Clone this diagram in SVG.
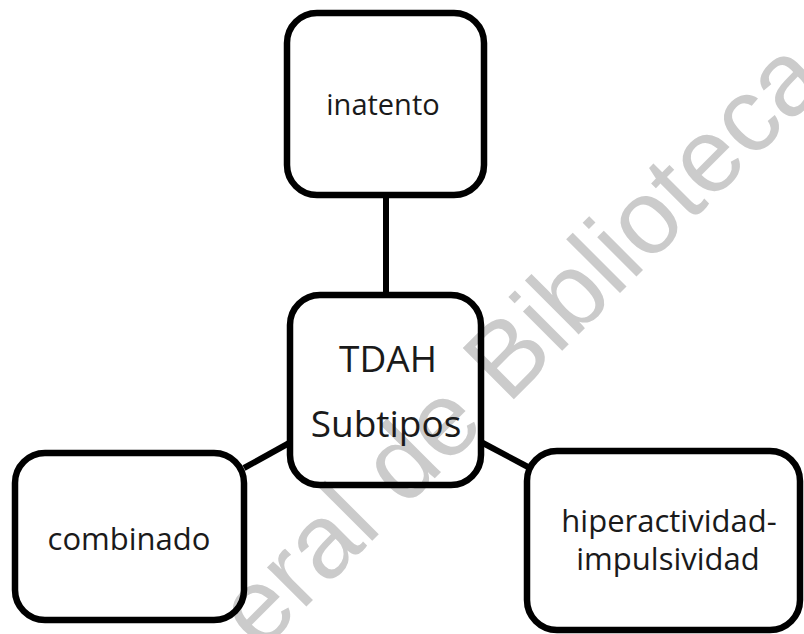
<svg xmlns="http://www.w3.org/2000/svg" width="804" height="634" viewBox="0 0 804 634">
<style>
.box{fill:none;stroke:#000;stroke-width:6.5}
.lbl{font-family:"Open Sans","Noto Sans","Liberation Sans",sans-serif;fill:#1a1a1a;text-anchor:middle}
.conn line{stroke:#000;stroke-width:6}
.wm{font-family:"Liberation Sans",Arial,sans-serif;font-size:105px;fill:#cbcbcb}
</style>
<rect width="804" height="634" fill="#fff"/>
<text class="wm" transform="translate(260,653) rotate(-45)" x="0" y="0">eral de Biblioteca</text>
<g id="connectors" class="conn">
<line x1="386" y1="195" x2="386" y2="295"/>
<line x1="244" y1="468" x2="291" y2="442"/>
<line x1="481" y1="442" x2="528" y2="467"/>
</g>
<g id="node-inatento">
<rect class="box" x="287" y="13" width="197" height="182" rx="30"/>
<text class="lbl" x="383" y="115" font-size="29">inatento</text>
</g>
<g id="node-tdah">
<rect class="box" x="290" y="295" width="191" height="190" rx="30"/>
<text class="lbl" x="388" y="372" font-size="37">TDAH</text>
<text class="lbl" x="386" y="437" font-size="37">Subtipos</text>
</g>
<g id="node-combinado">
<rect class="box" x="15" y="453" width="229" height="167" rx="30"/>
<text class="lbl" x="129" y="550" font-size="31">combinado</text>
</g>
<g id="node-hiperactividad">
<rect class="box" x="527" y="451" width="273" height="179" rx="30"/>
<text class="lbl" x="669" y="532" font-size="31">hiperactividad-</text>
<text class="lbl" x="668" y="570" font-size="31">impulsividad</text>
</g>
</svg>
